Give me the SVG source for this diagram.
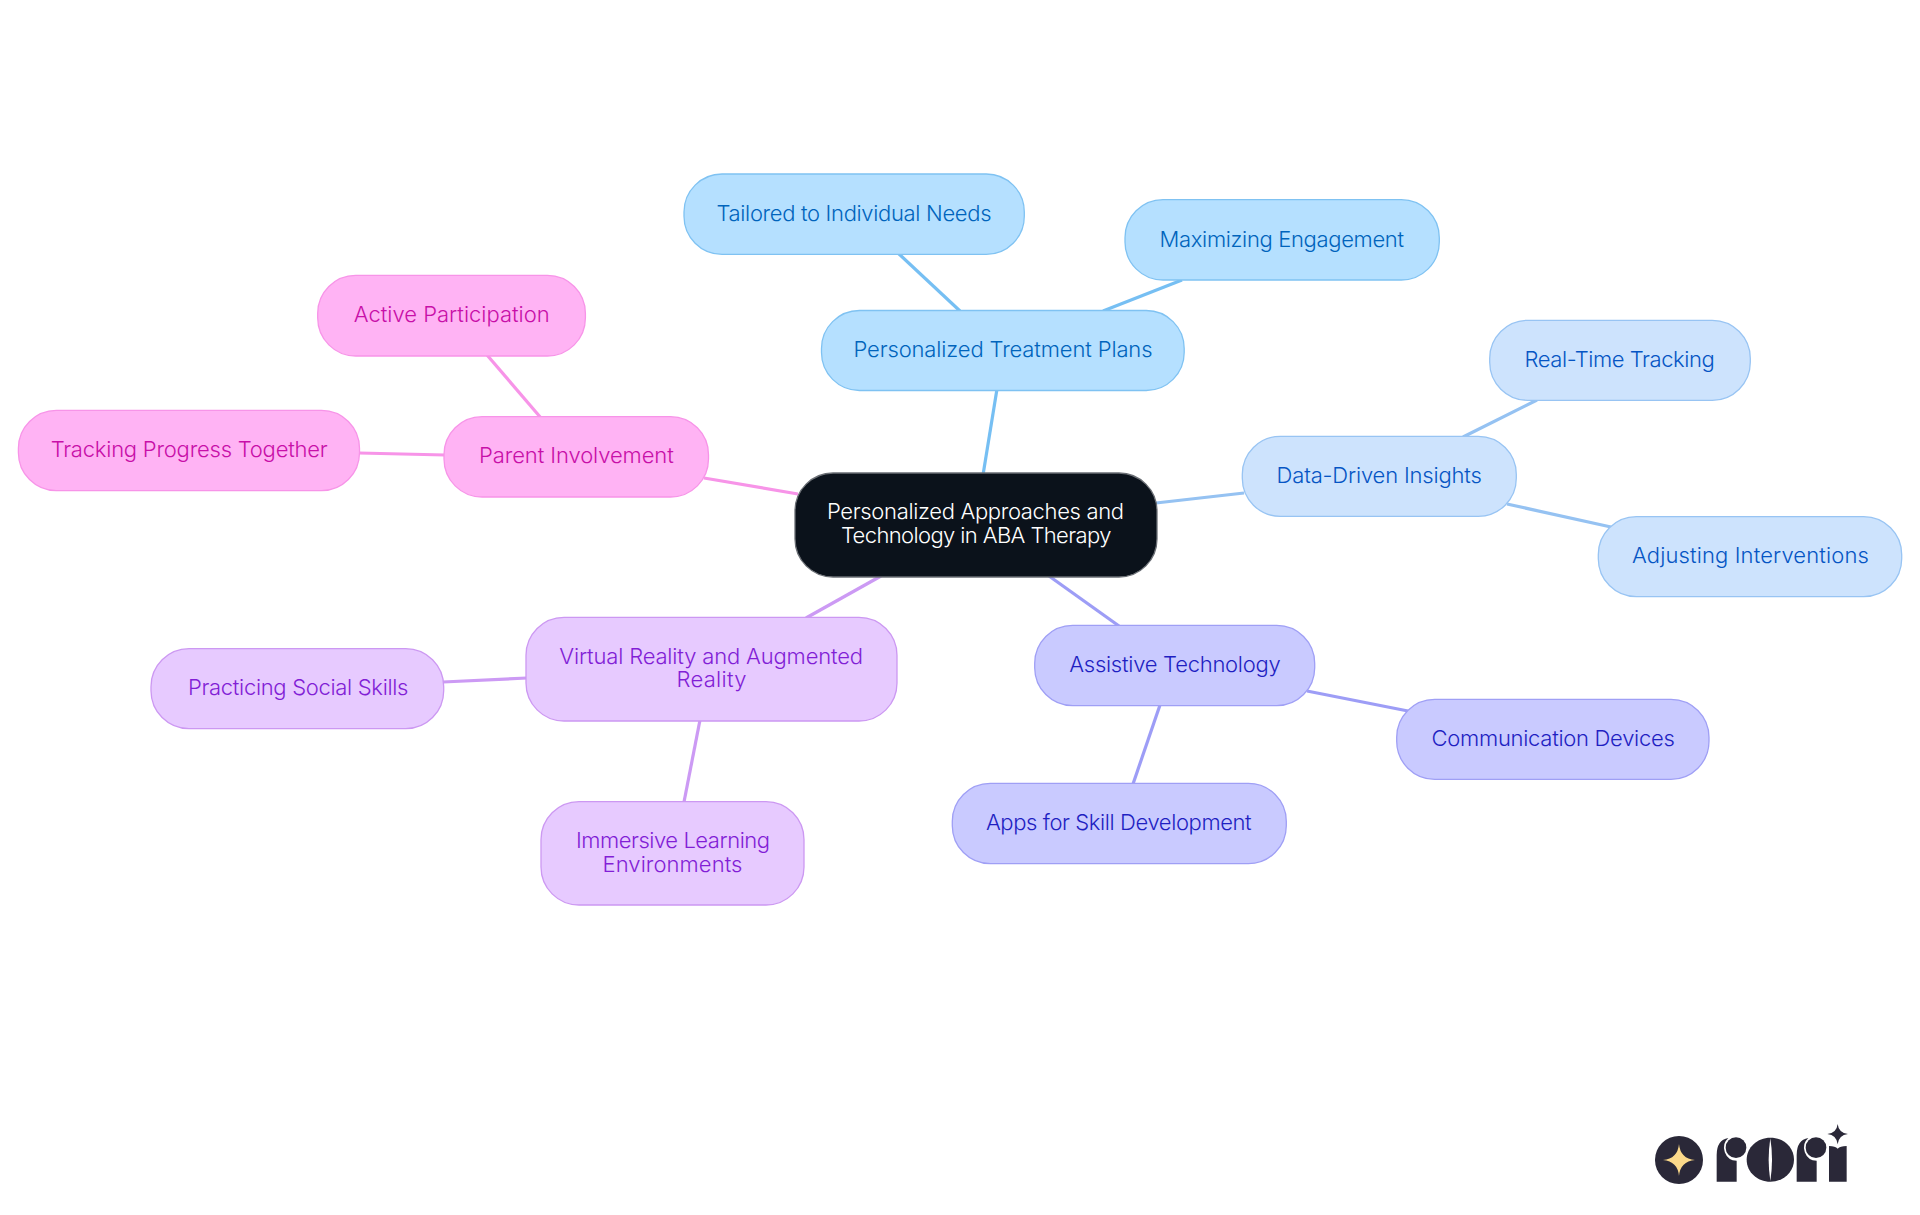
<svg xmlns="http://www.w3.org/2000/svg" width="1920" height="1215" viewBox="0 0 1920 1215">
<style>
text{font-family:Inter,"Noto Sans","Liberation Sans",sans-serif;font-size:22px;text-anchor:middle;font-weight:300}
rect{stroke-width:1.3}
line{stroke-width:3.2;fill:none}
.b1 rect{fill:#b5e0ff;stroke:#7fc2f2}.b1 text{fill:#0064bc}.lb1{stroke:#76bff3}
.b2 rect{fill:#cde3fd;stroke:#98c4f3}.b2 text{fill:#0555c4}.lb2{stroke:#95c2f2}
.in rect{fill:#c9caff;stroke:#9f9ff5}.in text{fill:#1f1fc2}.lin{stroke:#9d9df6}
.pu rect{fill:#e7caff;stroke:#cc98f2}.pu text{fill:#821ed6}.lpu{stroke:#cc9af4}
.pk rect{fill:#ffb3f4;stroke:#f794e8}.pk text{fill:#c80fa8}.lpk{stroke:#f794e8}
.logo{fill:#2a2838}
</style>
<rect width="1920" height="1215" fill="#ffffff" style="stroke:none"/>
<g id="connectors">
<line class="lb1" x1="983" y1="475" x2="997" y2="389"/>
<line class="lb1" x1="960" y1="311" x2="898" y2="253"/>
<line class="lb1" x1="1103" y1="311" x2="1182" y2="280"/>
<line class="lb2" x1="1156" y1="503" x2="1244" y2="493"/>
<line class="lb2" x1="1463" y1="437" x2="1537" y2="400"/>
<line class="lb2" x1="1507" y1="504" x2="1611" y2="527"/>
<line class="lin" x1="1049" y1="576" x2="1119" y2="626"/>
<line class="lin" x1="1307" y1="691" x2="1408" y2="711"/>
<line class="lin" x1="1160" y1="705" x2="1133" y2="784"/>
<line class="lpu" x1="881" y1="576" x2="806" y2="618"/>
<line class="lpu" x1="700" y1="720" x2="684" y2="802"/>
<line class="lpu" x1="527" y1="678" x2="443" y2="682"/>
<line class="lpk" x1="798" y1="494" x2="704" y2="478"/>
<line class="lpk" x1="541" y1="418" x2="487" y2="355"/>
<line class="lpk" x1="445" y1="455" x2="359" y2="453"/>
</g>
<g id="root"><rect x="795" y="473" width="362" height="104" rx="38" fill="#0b121b" stroke="#6a6e74" style="stroke-width:1.3"/>
<text x="975.5" y="519" textLength="297" fill="#ffffff">Personalized Approaches and</text>
<text x="976.2" y="543.3" textLength="270.5" fill="#ffffff">Technology in ABA Therapy</text></g>
<g id="n-plans" class="b1"><rect x="821.5" y="310.5" width="362.7" height="80" rx="38"/><text x="1003" y="357.3" textLength="299">Personalized Treatment Plans</text></g>
<g id="n-tailored" class="b1"><rect x="684" y="174" width="340.3" height="80.3" rx="38"/><text x="854" y="221" textLength="275">Tailored to Individual Needs</text></g>
<g id="n-max" class="b1"><rect x="1125" y="199.7" width="314.3" height="80.3" rx="38"/><text x="1281.8" y="246.7" textLength="244.5">Maximizing Engagement</text></g>
<g id="n-data" class="b2"><rect x="1242.3" y="436.3" width="274" height="80" rx="38"/><text x="1379.2" y="483.3" textLength="205.2">Data-Driven Insights</text></g>
<g id="n-realtime" class="b2"><rect x="1489.7" y="320.3" width="260.6" height="80" rx="38"/><text x="1619.7" y="367.3" textLength="190.2">Real-Time Tracking</text></g>
<g id="n-adjust" class="b2"><rect x="1598.3" y="516.7" width="303.4" height="80" rx="38"/><text x="1750.4" y="563.3" textLength="236.8">Adjusting Interventions</text></g>
<g id="n-assist" class="in"><rect x="1034.7" y="625.3" width="280" height="80.4" rx="38"/><text x="1175" y="672" textLength="211.5">Assistive Technology</text></g>
<g id="n-comm" class="in"><rect x="1396.7" y="699.3" width="312.3" height="80" rx="38"/><text x="1553.2" y="746" textLength="243.2">Communication Devices</text></g>
<g id="n-apps" class="in"><rect x="952.3" y="783.3" width="334" height="80.4" rx="38"/><text x="1118.8" y="830" textLength="265.8">Apps for Skill Development</text></g>
<g id="n-vr" class="pu"><rect x="526" y="617.3" width="371" height="103.7" rx="38"/><text x="711.2" y="664" textLength="303.8">Virtual Reality and Augmented</text><text x="711.5" y="687.3" textLength="69.9">Reality</text></g>
<g id="n-practice" class="pu"><rect x="151" y="648.7" width="292.7" height="80" rx="38"/><text x="298.2" y="695.3" textLength="220.5">Practicing Social Skills</text></g>
<g id="n-immersive" class="pu"><rect x="541" y="801.7" width="263" height="103.3" rx="38"/><text x="673" y="848.3" textLength="194.1">Immersive Learning</text><text x="672.5" y="872" textLength="139.9">Environments</text></g>
<g id="n-parent" class="pk"><rect x="444" y="416.7" width="264.5" height="80.3" rx="38"/><text x="576.4" y="462.7" textLength="194.7">Parent Involvement</text></g>
<g id="n-active" class="pk"><rect x="317.7" y="275.3" width="267.7" height="80.7" rx="38"/><text x="451.7" y="322" textLength="196">Active Participation</text></g>
<g id="n-tracking" class="pk"><rect x="18.4" y="410.3" width="341.1" height="80.4" rx="38"/><text x="189.2" y="457.3" textLength="277.1">Tracking Progress Together</text></g>
<g id="logo" class="logo" transform="translate(1620 1100) scale(.33333)">
<circle cx="177" cy="180" r="72"/>
<path d="M177 132Q181 176 225 180Q181 184 177 228Q173 184 129 180Q173 176 177 132Z" fill="#fbd98a"/>
<path d="M290 245V165Q290 120 325 114A39 39 0 0 0 350 182V245Z"/>
<circle cx="348" cy="143" r="31"/>
<path d="M451 113C490 113 522 142 522 179C522 216 490 245 451 245C412 245 380 216 380 179C380 142 412 113 451 113Z"/>
<path d="M451 115Q461 179 451 243Q441 179 451 115Z" fill="#ffffff"/>
<path d="M530 245V165Q530 120 565 114A39 39 0 0 0 590 182V245Z"/>
<circle cx="588" cy="143" r="31"/>
<path d="M627 245V138Q646 138 653 146Q660 138 680 138V245Z"/>
<path d="M653 72Q656 99 684 102Q656 105 653 133Q650 105 622 102Q650 99 653 72Z"/>
</g>
</svg>
